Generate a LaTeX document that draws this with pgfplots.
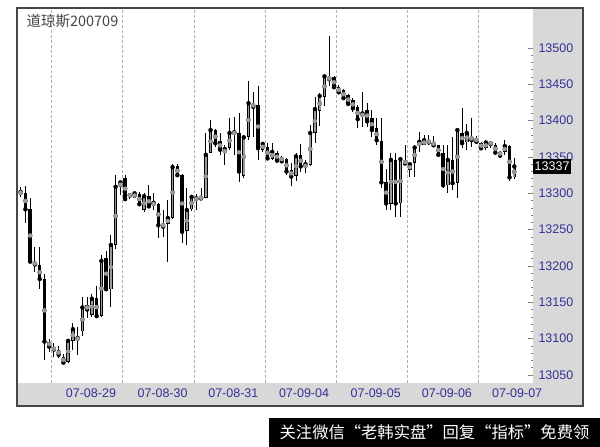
\documentclass[border=0pt]{standalone}
\usepackage{fontspec}
\setmainfont{Liberation Sans}
\newfontfamily\cjk{Noto Sans CJK SC}
\usepackage{pgfplots}
\usepackage{pgfplotstable}
\pgfplotsset{compat=1.18}
\definecolor{band}{RGB}{216,216,216}
\definecolor{upgray}{RGB}{155,155,155}
\definecolor{lblblue}{RGB}{50,50,150}
\definecolor{framec}{RGB}{70,70,70}
\definecolor{gridc}{RGB}{175,175,175}
\definecolor{tickc}{RGB}{130,130,130}
\pgfplotstableread{
i O H L C
0 13300 13309 13295 13302
1 13301 13310 13259 13278
2 13278 13293 13204 13206
3 13205 13226 13192 13202
4 13201 13226 13169 13182
5 13182 13189 13070 13096
6 13096 13100 13082 13089
7 13087 13094 13075 13085
8 13084 13090 13073 13078
9 13075 13079 13065 13067
10 13068 13099 13066 13097
11 13097 13121 13084 13113
12 13099 13116 13078 13101
13 13110 13158 13103 13143
14 13146 13158 13128 13140
15 13133 13162 13130 13155
16 13156 13172 13130 13131
17 13131 13215 13130 13207
18 13211 13221 13165 13168
19 13168 13242 13144 13229
20 13229 13325 13223 13309
21 13309 13316 13298 13315
22 13321 13325 13291 13292
23 13298 13300 13292 13297
24 13294 13301 13293 13300
25 13299 13302 13282 13285
26 13277 13300 13274 13296
27 13296 13311 13280 13282
28 13284 13300 13277 13287
29 13286 13287 13238 13256
30 13258 13277 13240 13254
31 13258 13291 13206 13266
32 13266 13340 13264 13336
33 13337 13340 13322 13325
34 13325 13326 13231 13247
35 13248 13307 13229 13277
36 13278 13297 13276 13295
37 13291 13299 13277 13293
38 13295 13307 13292 13293
39 13294 13383 13293 13353
40 13356 13401 13355 13387
41 13387 13388 13364 13369
42 13372 13383 13353 13360
43 13355 13367 13339 13361
44 13362 13403 13360 13383
45 13382 13405 13353 13384
46 13383 13410 13316 13330
47 13324 13380 13321 13377
48 13378 13455 13373 13424
49 13423 13440 13378 13419
50 13422 13448 13346 13362
51 13360 13371 13357 13368
52 13364 13369 13346 13348
53 13348 13369 13346 13357
54 13356 13358 13343 13345
55 13350 13351 13342 13344
56 13347 13349 13325 13330
57 13332 13342 13310 13323
58 13324 13355 13317 13351
59 13353 13368 13330 13337
60 13336 13346 13328 13340
61 13339 13394 13337 13383
62 13383 13433 13369 13416
63 13413 13438 13392 13434
64 13433 13461 13420 13461
65 13459 13516 13447 13457
66 13460 13461 13445 13446
67 13446 13449 13437 13439
68 13442 13444 13430 13431
69 13435 13437 13422 13423
70 13428 13431 13412 13417
71 13419 13422 13390 13402
72 13406 13440 13391 13410
73 13415 13424 13391 13399
74 13403 13415 13378 13387
75 13390 13403 13367 13373
76 13372 13403 13307 13315
77 13316 13334 13277 13286
78 13286 13355 13277 13346
79 13346 13355 13268 13286
80 13286 13348 13268 13347
81 13345 13367 13339 13341
82 13332 13341 13323 13340
83 13342 13367 13323 13363
84 13365 13385 13357 13371
85 13367 13380 13366 13373
86 13372 13380 13366 13370
87 13371 13379 13365 13366
88 13366 13367 13350 13353
89 13356 13367 13307 13311
90 13311 13367 13300 13346
91 13346 13378 13305 13314
92 13314 13388 13293 13387
93 13383 13417 13362 13369
94 13370 13396 13360 13383
95 13378 13403 13364 13373
96 13376 13379 13368 13371
97 13369 13371 13361 13362
98 13362 13372 13360 13370
99 13370 13371 13362 13368
100 13367 13369 13353 13356
101 13357 13358 13349 13352
102 13357 13373 13353 13365
103 13365 13366 13317 13322
104 13322 13348 13320 13337
}\candles
\begin{document}
\begin{tikzpicture}
\path[use as bounding box] (0bp,0bp) rectangle (600bp,447bp);
\fill[band] (17bp,41bp) rectangle (583bp,439bp);
\begin{axis}[
  at={(17bp,64bp)}, anchor=south west,
  scale only axis, width=516bp, height=375bp,
  xmin=-0.78, xmax=107.94, ymin=13039, ymax=13555,
  axis line style={draw=none},
  axis background/.style={fill=white},
  scaled y ticks=false, scaled x ticks=false,
  ytick={13050,13100,...,13500},
  minor y tick num=4,
  ytick pos=right, yticklabel pos=right,
  tick align=inside,
  major tick length=5.5bp, minor tick length=2.5bp,
  y tick style={tickc, line width=0.6bp},
  /pgf/number format/assume math mode=true,
  y tick label style={/pgf/number format/1000 sep={}, anchor=west, xshift=2bp,
    font=\fontsize{12.5bp}{14bp}\selectfont, text=lblblue},
  yticklabel={\pgfmathprintnumber[fixed,precision=0,1000 sep={}]{\tick}},
  xtick={14.8,29.9,44.8,59.7,74.8,89.8,104.6},
  xticklabels={07-08-29,07-08-30,07-08-31,07-09-04,07-09-05,07-09-06,07-09-07},
  x tick style={draw=none},
  x tick label style={anchor=base, yshift=-14.5bp,
    font=\fontsize{12.5bp}{14bp}\selectfont, text=lblblue},
  extra x ticks={6.5,21.5,36.5,51.5,66.5,81.5,96.5},
  extra x tick labels={},
  extra x tick style={major tick length=0pt, grid=major,
    major grid style={gridc, line width=0.8bp, dash pattern=on 2.5bp off 2.5bp}},
]
% wicks
\addplot[black, only marks, mark=none, error bars/.cd, y dir=both, y explicit, error mark=none,
  error bar style={draw=black, line width=0.9bp}]
  table[x=i, y=C, y error plus expr=\thisrow{H}-\thisrow{C}, y error minus expr=\thisrow{C}-\thisrow{L}] {\candles};
% bodies (outline / down fill)
\addplot[black, only marks, mark=none, error bars/.cd, y dir=both, y explicit, error mark=none,
  error bar style={draw=black, line width=3.4bp}]
  table[x=i, y expr=(\thisrow{O}+\thisrow{C})/2, y error expr={max(abs(\thisrow{C}-\thisrow{O})/2,0.6)}] {\candles};
% up fill
\addplot[upgray, only marks, mark=none, error bars/.cd, y dir=both, y explicit, error mark=none,
  error bar style={draw=upgray, line width=1.7bp}]
  table[x=i, y expr=(\thisrow{O}+\thisrow{C})/2, y error expr={max((\thisrow{C}-\thisrow{O})/2-1.1,0)}] {\candles};
\end{axis}
\node[anchor=west, fill=black, text=white, inner xsep=1.5bp, inner ysep=3.5bp,
  font=\fontsize{12.5bp}{14bp}\selectfont] at (533bp,280.5bp) {13337};
\draw[framec, line width=1.3bp] (17bp,41bp) rectangle (583bp,439bp);
\node[anchor=west, text=framec, font=\cjk\fontsize{14.5bp}{16bp}\selectfont] at (23bp,426bp) {道琼斯200709};
\fill[black] (269bp,0bp) rectangle (600bp,29bp);
\node[text=white, font=\cjk\fontsize{16.3bp}{18bp}\selectfont] at (434.5bp,14.5bp) {关注微信“老韩实盘”回复“指标”免费领};
\end{tikzpicture}
\end{document}
